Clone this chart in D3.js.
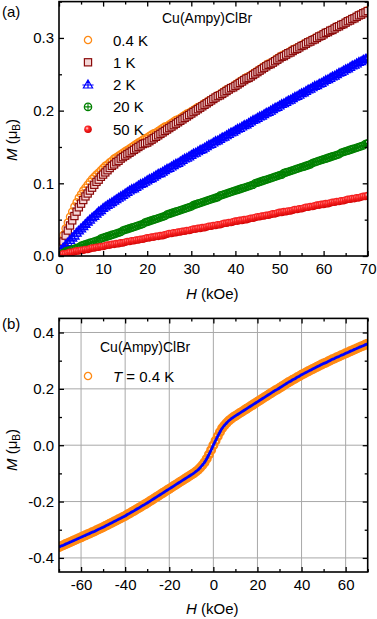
<!DOCTYPE html>
<html>
<head>
<meta charset="utf-8">
<script src="https://cdn.jsdelivr.net/npm/d3@7"></script>
<style>
  body { margin: 0; background: #fff; }
  text { font-family: "Liberation Sans", Arial, sans-serif; fill: #000; }
</style>
</head>
<body>
<svg id="chart" width="377" height="619"></svg>
<script>
// ---- panel (a): M(H) at several temperatures, field in kOe ----
const fieldA = [0,0.5,1,1.5,2,2.5,3,3.5,4,4.5,5,5.5,6,6.5,7,7.5,8,8.5,9,9.5,
  10,10.5,11,11.5,12,12.5,13,13.5,14,14.5,15,15.5,16,16.5,17,17.5,18,18.5,19,19.5,
  20,20.5,21,21.5,22,22.5,23,23.5,24,24.5,25,25.5,26,26.5,27,27.5,28,28.5,29,29.5,
  30,30.5,31,31.5,32,32.5,33,33.5,34,34.5,35,35.5,36,36.5,37,37.5,38,38.5,39,39.5,
  40,40.5,41,41.5,42,42.5,43,43.5,44,44.5,45,45.5,46,46.5,47,47.5,48,48.5,49,49.5,
  50,50.5,51,51.5,52,52.5,53,53.5,54,54.5,55,55.5,56,56.5,57,57.5,58,58.5,59,59.5,
  60,60.5,61,61.5,62,62.5,63,63.5,64,64.5,65,65.5,66,66.5,67,67.5,68,68.5,69,69.5,70];

const m04K = [
  0.008,0.019,0.029,0.038,0.046,0.054,0.061,0.068,0.074,0.080,
  0.085,0.090,0.094,0.098,0.102,0.106,0.109,0.112,0.115,0.118,
  0.121,0.124,0.126,0.129,0.131,0.134,0.136,0.138,0.140,0.142,
  0.144,0.146,0.148,0.150,0.152,0.154,0.156,0.158,0.160,0.162,
  0.163,0.165,0.167,0.169,0.170,0.172,0.174,0.176,0.178,0.179,
  0.181,0.183,0.185,0.187,0.188,0.190,0.192,0.194,0.196,0.197,
  0.199,0.201,0.203,0.205,0.206,0.208,0.210,0.212,0.214,0.215,
  0.217,0.219,0.221,0.223,0.225,0.227,0.229,0.230,0.232,0.234,
  0.236,0.238,0.240,0.242,0.244,0.246,0.247,0.249,0.251,0.253,
  0.255,0.257,0.259,0.261,0.263,0.265,0.266,0.268,0.270,0.272,
  0.274,0.276,0.277,0.279,0.280,0.282,0.284,0.285,0.287,0.288,
  0.290,0.292,0.293,0.295,0.296,0.298,0.300,0.301,0.303,0.304,
  0.306,0.308,0.309,0.311,0.312,0.314,0.316,0.317,0.319,0.320,
  0.322,0.324,0.325,0.327,0.328,0.330,0.332,0.333,0.335,0.336,0.338];

const m1K = [
  0.004,0.012,0.020,0.028,0.035,0.042,0.049,0.055,0.061,0.067,
  0.072,0.077,0.082,0.086,0.090,0.094,0.098,0.102,0.105,0.109,
  0.112,0.115,0.118,0.121,0.124,0.126,0.129,0.131,0.134,0.136,
  0.138,0.140,0.142,0.144,0.146,0.148,0.150,0.152,0.154,0.155,
  0.156,0.158,0.160,0.162,0.164,0.166,0.168,0.170,0.172,0.174,
  0.176,0.178,0.180,0.182,0.184,0.186,0.188,0.190,0.192,0.194,
  0.196,0.198,0.200,0.202,0.204,0.206,0.208,0.210,0.212,0.214,
  0.216,0.218,0.220,0.221,0.223,0.225,0.227,0.229,0.231,0.232,
  0.234,0.236,0.238,0.240,0.242,0.244,0.245,0.247,0.249,0.251,
  0.253,0.255,0.257,0.259,0.261,0.263,0.264,0.266,0.268,0.270,
  0.272,0.274,0.275,0.277,0.279,0.280,0.282,0.284,0.285,0.287,
  0.289,0.290,0.292,0.294,0.295,0.297,0.298,0.300,0.302,0.303,
  0.305,0.307,0.308,0.310,0.311,0.313,0.315,0.316,0.318,0.319,
  0.321,0.323,0.324,0.326,0.327,0.329,0.331,0.332,0.334,0.335,0.337];

const m2K = [
  0.004,0.008,0.011,0.015,0.018,0.022,0.025,0.028,0.032,0.035,
  0.038,0.041,0.044,0.047,0.050,0.053,0.055,0.058,0.061,0.063,
  0.066,0.068,0.070,0.072,0.074,0.076,0.078,0.080,0.082,0.084,
  0.086,0.088,0.090,0.092,0.093,0.095,0.097,0.099,0.100,0.102,
  0.104,0.106,0.107,0.109,0.111,0.113,0.114,0.116,0.118,0.120,
  0.121,0.123,0.125,0.127,0.128,0.130,0.132,0.134,0.135,0.137,
  0.139,0.141,0.142,0.144,0.146,0.147,0.149,0.151,0.153,0.154,
  0.156,0.158,0.159,0.161,0.163,0.164,0.166,0.168,0.170,0.171,
  0.173,0.175,0.176,0.178,0.180,0.181,0.183,0.185,0.187,0.188,
  0.190,0.192,0.193,0.195,0.197,0.198,0.200,0.202,0.204,0.205,
  0.207,0.209,0.210,0.212,0.214,0.215,0.217,0.219,0.220,0.222,
  0.224,0.225,0.227,0.229,0.230,0.232,0.234,0.235,0.237,0.238,
  0.240,0.242,0.243,0.245,0.247,0.248,0.250,0.252,0.253,0.255,
  0.257,0.258,0.260,0.262,0.263,0.265,0.267,0.268,0.270,0.271,0.273];

const m20K = [
  0.002,0.003,0.004,0.006,0.007,0.008,0.009,0.010,0.011,0.012,
  0.014,0.015,0.016,0.017,0.018,0.019,0.020,0.021,0.022,0.024,
  0.025,0.026,0.027,0.028,0.029,0.030,0.031,0.032,0.033,0.035,
  0.036,0.037,0.038,0.039,0.040,0.041,0.042,0.043,0.044,0.046,
  0.047,0.048,0.049,0.050,0.051,0.052,0.053,0.054,0.055,0.057,
  0.058,0.059,0.060,0.061,0.062,0.063,0.064,0.065,0.066,0.067,
  0.068,0.070,0.071,0.072,0.073,0.074,0.075,0.076,0.077,0.078,
  0.079,0.080,0.081,0.083,0.084,0.085,0.086,0.087,0.088,0.089,
  0.090,0.091,0.092,0.093,0.094,0.095,0.096,0.097,0.098,0.100,
  0.101,0.102,0.103,0.104,0.105,0.106,0.107,0.108,0.109,0.110,
  0.111,0.112,0.114,0.115,0.116,0.117,0.118,0.119,0.120,0.121,
  0.122,0.123,0.124,0.125,0.126,0.128,0.129,0.130,0.131,0.132,
  0.133,0.134,0.135,0.136,0.137,0.138,0.139,0.140,0.142,0.143,
  0.144,0.145,0.146,0.147,0.148,0.149,0.150,0.151,0.152,0.154,0.155];

const m50K = [
  0.002,0.002,0.003,0.003,0.004,0.005,0.005,0.006,0.007,0.007,
  0.008,0.008,0.009,0.009,0.010,0.011,0.011,0.012,0.012,0.013,
  0.013,0.014,0.015,0.015,0.016,0.016,0.017,0.017,0.018,0.018,
  0.019,0.020,0.020,0.021,0.021,0.022,0.022,0.023,0.023,0.024,
  0.025,0.025,0.026,0.026,0.027,0.027,0.028,0.028,0.029,0.030,
  0.031,0.031,0.032,0.032,0.033,0.033,0.034,0.034,0.035,0.035,
  0.036,0.037,0.037,0.038,0.038,0.039,0.039,0.040,0.041,0.041,
  0.042,0.042,0.043,0.043,0.044,0.045,0.045,0.046,0.046,0.047,
  0.048,0.048,0.049,0.049,0.050,0.050,0.051,0.052,0.052,0.053,
  0.054,0.054,0.055,0.055,0.056,0.056,0.057,0.058,0.058,0.059,
  0.060,0.060,0.061,0.061,0.062,0.062,0.063,0.064,0.064,0.065,
  0.065,0.066,0.067,0.067,0.068,0.068,0.069,0.070,0.070,0.071,
  0.071,0.072,0.072,0.073,0.074,0.074,0.075,0.075,0.076,0.076,
  0.077,0.078,0.078,0.079,0.079,0.080,0.080,0.081,0.082,0.082,0.083];

const tempLabels = ["0.4 K", "1 K", "2 K", "20 K", "50 K"];

// ---- panel (b): full sweep at 0.4 K ----
const fieldB = [-70,-69,-68,-67,-66,-65,-64,-63,-62,-61,-60,-59,-58,-57,-56,-55,-54,-53,-52,-51,
  -50,-49,-48,-47,-46,-45,-44,-43,-42,-41,-40,-39,-38,-37,-36,-35,-34,-33,-32,-31,
  -30,-29,-28,-27,-26,-25,-24,-23,-22,-21,-20,-19,-18,-17,-16,-15,-14,-13,-12,-11,
  -10,-9,-8,-7,-6,-5,-4,-3,-2,-1,0,1,2,3,4,5,6,7,8,9,
  10,11,12,13,14,15,16,17,18,19,20,21,22,23,24,25,26,27,28,29,
  30,31,32,33,34,35,36,37,38,39,40,41,42,43,44,45,46,47,48,49,
  50,51,52,53,54,55,56,57,58,59,60,61,62,63,64,65,66,67,68,69,70];

const mLoop = [
  -0.362,-0.358,-0.355,-0.351,-0.348,-0.344,-0.341,-0.337,-0.334,-0.330,
  -0.327,-0.323,-0.320,-0.316,-0.313,-0.309,-0.306,-0.302,-0.298,-0.295,
  -0.291,-0.287,-0.283,-0.279,-0.275,-0.271,-0.267,-0.263,-0.259,-0.255,
  -0.251,-0.246,-0.242,-0.237,-0.233,-0.228,-0.224,-0.219,-0.214,-0.210,
  -0.205,-0.200,-0.195,-0.190,-0.185,-0.180,-0.175,-0.170,-0.165,-0.160,
  -0.155,-0.150,-0.145,-0.140,-0.135,-0.130,-0.125,-0.120,-0.115,-0.110,
  -0.105,-0.100,-0.094,-0.088,-0.080,-0.071,-0.061,-0.048,-0.033,-0.017,
  0.000,0.016,0.032,0.047,0.060,0.070,0.079,0.087,0.093,0.099,
  0.104,0.109,0.114,0.119,0.124,0.129,0.134,0.139,0.144,0.149,
  0.154,0.159,0.164,0.169,0.174,0.179,0.184,0.189,0.194,0.198,
  0.203,0.208,0.213,0.218,0.223,0.227,0.232,0.236,0.241,0.245,
  0.250,0.254,0.258,0.262,0.266,0.270,0.274,0.278,0.282,0.286,
  0.290,0.293,0.297,0.301,0.305,0.308,0.312,0.315,0.319,0.322,
  0.326,0.329,0.333,0.336,0.340,0.343,0.347,0.350,0.353,0.357,0.360];

const xTicksA = [0,10,20,30,40,50,60,70];
const xMinorA = [5,15,25,35,45,55,65];
const yTicksA = [0,0.1,0.2,0.3];
const yMinorA = [0.05,0.15,0.25,0.35];
const xTicksB = [-60,-40,-20,0,20,40,60];
const xMinorB = [-70,-50,-30,-10,10,30,50,70];
const yTicksB = [-0.4,-0.2,0,0.2,0.4];
const yMinorB = [-0.3,-0.1,0.1,0.3];

const svg = d3.select('#chart');
const FONT = 15;

const defs = svg.append('defs');
const grad = defs.append('radialGradient').attr('id', 'ball')
  .attr('cx', '38%').attr('cy', '38%').attr('r', '65%');
grad.append('stop').attr('offset', '0%').attr('stop-color', '#ffe0e0');
grad.append('stop').attr('offset', '35%').attr('stop-color', '#ff2a2a');
grad.append('stop').attr('offset', '100%').attr('stop-color', '#d00000');

// marker styles in legend order
const markers = [
  { draw: g => g.append('circle').attr('r', 3.6).attr('fill', 'none').attr('stroke', '#ff8a14').attr('stroke-width', 1.3) },
  { draw: g => g.append('rect').attr('x', -3.6).attr('y', -3.6).attr('width', 7.2).attr('height', 7.2)
      .attr('fill', '#f3d6d6').attr('stroke', '#8b0a0a').attr('stroke-width', 1.2) },
  { draw: g => g.append('path').attr('d', 'M0,-4.6L4.6,3.4L-4.6,3.4Z M0,-4.6V3.4 M-5.6,0.4H5.6')
      .attr('fill', 'none').attr('stroke', '#0000ff').attr('stroke-width', 1.2) },
  { draw: g => { g.append('circle').attr('r', 3.7).attr('fill', 'none').attr('stroke', '#008000').attr('stroke-width', 1.2);
      g.append('path').attr('d', 'M-3.7,0H3.7M0,-3.7V3.7').attr('stroke', '#008000').attr('stroke-width', 1.1); } },
  { draw: g => g.append('circle').attr('r', 3.8).attr('fill', 'url(#ball)') }
];

function frame(g, x, y, opts) {
  const [x0, x1] = x.range();
  const [y0, y1] = y.range();
  const ax = (gen, tr) => {
    const a = g.append('g').attr('transform', tr).call(gen);
    a.select('.domain').remove();
    a.selectAll('line').attr('stroke', '#000').attr('stroke-width', 1.3);
    a.selectAll('text').attr('font-size', FONT).attr('font-family', '"Liberation Sans", Arial, sans-serif');
    return a;
  };
  // major
  ax(d3.axisBottom(x).tickValues(opts.xt).tickSize(-5).tickPadding(7).tickFormat(d => String(d)), `translate(0,${y0})`);
  ax(d3.axisLeft(y).tickValues(opts.yt).tickSize(-5).tickPadding(5).tickFormat(opts.yFmt), `translate(${x0},0)`);
  ax(d3.axisTop(x).tickValues(opts.xt).tickSize(-5).tickFormat(''), `translate(0,${y1})`);
  ax(d3.axisRight(y).tickValues(opts.yt).tickSize(-5).tickFormat(''), `translate(${x1},0)`);
  // minor
  ax(d3.axisBottom(x).tickValues(opts.xm).tickSize(-3).tickFormat(''), `translate(0,${y0})`);
  ax(d3.axisLeft(y).tickValues(opts.ym).tickSize(-3).tickFormat(''), `translate(${x0},0)`);
  ax(d3.axisTop(x).tickValues(opts.xm).tickSize(-3).tickFormat(''), `translate(0,${y1})`);
  ax(d3.axisRight(y).tickValues(opts.ym).tickSize(-3).tickFormat(''), `translate(${x1},0)`);

  g.append('rect').attr('x', x0).attr('y', y1).attr('width', x1 - x0).attr('height', y0 - y1)
    .attr('fill', 'none').attr('stroke', '#000').attr('stroke-width', 1.6);
}

function axisTitles(g, x, xTitleY, yTitleX, yTitleY) {
  const [x0, x1] = x.range();
  const xt = g.append('text').attr('x', (x0 + x1) / 2 - 1).attr('y', xTitleY)
    .attr('text-anchor', 'middle').attr('font-size', FONT);
  xt.append('tspan').attr('font-style', 'italic').text('H');
  xt.append('tspan').text(' (kOe)');

  const yt = g.append('text').attr('transform', `translate(${yTitleX},${yTitleY}) rotate(-90)`)
    .attr('text-anchor', 'middle').attr('font-size', FONT);
  yt.append('tspan').attr('font-style', 'italic').text('M');
  yt.append('tspan').text(' (μ');
  yt.append('tspan').attr('font-size', 10).attr('dy', 3).text('B');
  yt.append('tspan').attr('dy', -3).text(')');
}

// ================= panel (a) =================
const xA = d3.scaleLinear().domain([0, 70]).range([59, 367.7]);
const yA = d3.scaleLinear().domain([0, 0.35]).range([256, 1.6]);

const gA = svg.append('g');
defs.append('clipPath').attr('id', 'clipA').append('rect')
  .attr('x', 59).attr('y', 1.6).attr('width', 367.7 - 59).attr('height', 256 - 1.6);

const seriesA = [m04K, m1K, m2K, m20K, m50K];
const plotA = gA.append('g').attr('clip-path', 'url(#clipA)');
seriesA.forEach((vals, i) => {
  const pts = fieldA.map((h, j) => [h, vals[j]]);
  plotA.append('g').selectAll('g').data(pts).join('g')
    .attr('transform', d => `translate(${xA(d[0])},${yA(d[1])})`)
    .each(function () { markers[i].draw(d3.select(this)); });
});

frame(gA, xA, yA, { xt: xTicksA, xm: xMinorA, yt: yTicksA, ym: yMinorA, yFmt: d3.format('.1f') });
axisTitles(gA, xA, 298.5, 17, 140);

gA.append('text').attr('x', 2).attr('y', 17).attr('font-size', FONT).text('(a)');
gA.append('text').attr('x', 162).attr('y', 23).attr('font-size', 14).text('Cu(Ampy)ClBr');

const legA = gA.append('g');
tempLabels.forEach((lab, i) => {
  const cy = 40 + i * 22.3;
  markers[i].draw(legA.append('g').attr('transform', `translate(88,${cy})`));
  legA.append('text').attr('x', 113).attr('y', cy + 5.5).attr('font-size', FONT).text(lab);
});

// ================= panel (b) =================
const xB = d3.scaleLinear().domain([-70, 70]).range([59, 367.7]);
const yB = d3.scaleLinear().domain([-0.45, 0.45]).range([572, 318.4]);
const gB = svg.append('g');
defs.append('clipPath').attr('id', 'clipB').append('rect')
  .attr('x', 59).attr('y', 318.4).attr('width', 367.7 - 59).attr('height', 572 - 318.4);

// grid
gB.append('g').selectAll('line').data(xTicksB).join('line')
  .attr('x1', d => xB(d)).attr('x2', d => xB(d)).attr('y1', 318.4).attr('y2', 572)
  .attr('stroke', '#a8a8a8').attr('stroke-width', 1);
gB.append('g').selectAll('line').data(yTicksB).join('line')
  .attr('y1', d => yB(d)).attr('y2', d => yB(d)).attr('x1', 59).attr('x2', 367.7)
  .attr('stroke', '#a8a8a8').attr('stroke-width', 1);

const loop = fieldB.map((h, j) => [h, mLoop[j]]);
const plotB = gB.append('g').attr('clip-path', 'url(#clipB)');
plotB.append('g').selectAll('circle').data(loop).join('circle')
  .attr('cx', d => xB(d[0])).attr('cy', d => yB(d[1])).attr('r', 3.8)
  .attr('fill', 'none').attr('stroke', '#ff8a14').attr('stroke-width', 2.4);
plotB.append('path').datum(loop)
  .attr('d', d3.line().x(d => xB(d[0])).y(d => yB(d[1])).curve(d3.curveMonotoneX))
  .attr('fill', 'none').attr('stroke', '#0000ff').attr('stroke-width', 2.8);

const minusFmt = d => d3.format('.1f')(d).replace('−', '-');
frame(gB, xB, yB, { xt: xTicksB, xm: xMinorB, yt: yTicksB, ym: yMinorB, yFmt: minusFmt });
gB.selectAll('text').filter(function () { return /−/.test(this.textContent); })
  .text(function () { return this.textContent.replace('−', '-'); });
axisTitles(gB, xB, 614, 17, 450);

gB.append('text').attr('x', 2).attr('y', 329).attr('font-size', FONT).text('(b)');
gB.append('text').attr('x', 100).attr('y', 352).attr('font-size', 14).text('Cu(Ampy)ClBr');
markers[0].draw(gB.append('g').attr('transform', 'translate(88,376)'));
const tl = gB.append('text').attr('x', 113).attr('y', 381.5).attr('font-size', FONT);
tl.append('tspan').attr('font-style', 'italic').text('T');
tl.append('tspan').text(' = 0.4 K');
</script>
</body>
</html>
